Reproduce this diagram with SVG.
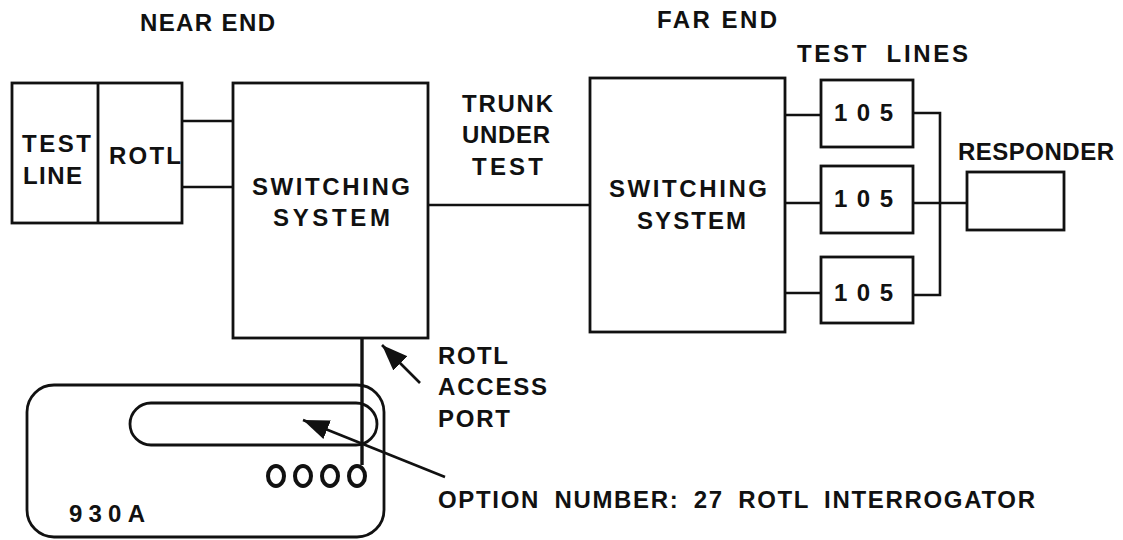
<svg xmlns="http://www.w3.org/2000/svg" width="1123" height="540" viewBox="0 0 1123 540">
<style>
  text { font-family: "Liberation Sans", Arial, sans-serif; font-weight: bold; font-size: 24px; fill: #111; }
  .box { fill: none; stroke: #111; stroke-width: 2.8; }
  .wire { fill: none; stroke: #111; stroke-width: 2.6; }
  .thick { fill: none; stroke: #111; stroke-width: 3.4; }
  .lamp { fill: none; stroke: #111; stroke-width: 4; }
</style>
<defs>
  <marker id="ah" markerUnits="userSpaceOnUse" markerWidth="28" markerHeight="22" refX="26" refY="10" orient="auto">
    <path d="M0,0 L26,10 L0,20 Z" fill="#111"/>
  </marker>
</defs>
<rect width="1123" height="540" fill="#fff"/>

<g id="labels">
  <text x="140" y="31" textLength="135" lengthAdjust="spacing">NEAR END</text>
  <text x="657" y="28" textLength="120" lengthAdjust="spacing">FAR END</text>
  <text x="797" y="62" textLength="171" lengthAdjust="spacing" style="word-spacing:8px">TEST LINES</text>
  <text x="462" y="112" textLength="91" lengthAdjust="spacing">TRUNK</text>
  <text x="462" y="143" textLength="88" lengthAdjust="spacing">UNDER</text>
  <text x="472" y="175" textLength="71" lengthAdjust="spacing">TEST</text>
  <text x="958" y="160" textLength="156" lengthAdjust="spacing">RESPONDER</text>
  <text x="438" y="364" textLength="70" lengthAdjust="spacing">ROTL</text>
  <text x="438" y="395" textLength="109" lengthAdjust="spacing">ACCESS</text>
  <text x="438" y="427" textLength="72" lengthAdjust="spacing">PORT</text>
  <text x="438" y="508" textLength="597" lengthAdjust="spacing" style="word-spacing:6px">OPTION NUMBER: 27 ROTL INTERROGATOR</text>
</g>

<g id="test-line-rotl">
  <rect class="box" x="12" y="83" width="170" height="140"/>
  <line class="box" x1="98" y1="83" x2="98" y2="223"/>
  <text x="22" y="152" textLength="69" lengthAdjust="spacing">TEST</text>
  <text x="23" y="184" textLength="59" lengthAdjust="spacing">LINE</text>
  <text x="109" y="164" textLength="72" lengthAdjust="spacing">ROTL</text>
</g>

<g id="near-switching">
  <rect class="box" x="233" y="83" width="195" height="255"/>
  <text x="252" y="195" textLength="158" lengthAdjust="spacing">SWITCHING</text>
  <text x="273" y="226" textLength="117" lengthAdjust="spacing">SYSTEM</text>
</g>

<g id="far-switching">
  <rect class="box" x="590" y="78" width="195" height="254"/>
  <text x="609" y="197" textLength="158" lengthAdjust="spacing">SWITCHING</text>
  <text x="637" y="229" textLength="109" lengthAdjust="spacing">SYSTEM</text>
</g>

<g id="tl1">
  <rect class="box" x="821" y="80" width="92" height="67"/>
  <text x="834" y="121" textLength="59" lengthAdjust="spacing">105</text>
</g>
<g id="tl2">
  <rect class="box" x="821" y="166" width="92" height="67"/>
  <text x="834" y="207" textLength="59" lengthAdjust="spacing">105</text>
</g>
<g id="tl3">
  <rect class="box" x="821" y="257" width="92" height="66"/>
  <text x="834" y="301" textLength="59" lengthAdjust="spacing">105</text>
</g>

<g id="responder">
  <rect class="box" x="967" y="172" width="97" height="58"/>
</g>

<g id="set-930a">
  <rect class="box" x="27" y="385" width="357" height="152" rx="27" ry="27"/>
  <rect class="box" x="130" y="403" width="247" height="42" rx="21" ry="21"/>
  <ellipse class="lamp" cx="276" cy="476" rx="8" ry="10"/>
  <ellipse class="lamp" cx="303" cy="476" rx="8" ry="10"/>
  <ellipse class="lamp" cx="330" cy="476" rx="8" ry="10"/>
  <ellipse class="lamp" cx="357" cy="476" rx="8" ry="10"/>
  <text x="69" y="522" textLength="76" lengthAdjust="spacing">930A</text>
</g>

<g id="connectors">
  <line class="wire" x1="182" y1="121" x2="233" y2="121"/>
  <line class="wire" x1="182" y1="187" x2="233" y2="187"/>
  <line class="wire" x1="428" y1="205" x2="590" y2="205"/>
  <line class="wire" x1="785" y1="115" x2="821" y2="115"/>
  <line class="wire" x1="785" y1="203" x2="821" y2="203"/>
  <line class="wire" x1="785" y1="293" x2="821" y2="293"/>
  <polyline class="wire" points="913,113 940,113 940,295 913,295"/>
  <line class="wire" x1="913" y1="203" x2="967" y2="203"/>
  <line class="thick" x1="362" y1="338" x2="362" y2="465"/>
  <line class="wire" x1="420" y1="383" x2="382" y2="345" marker-end="url(#ah)"/>
  <line class="wire" x1="445" y1="477" x2="303" y2="420" marker-end="url(#ah)"/>
</g>
</svg>
